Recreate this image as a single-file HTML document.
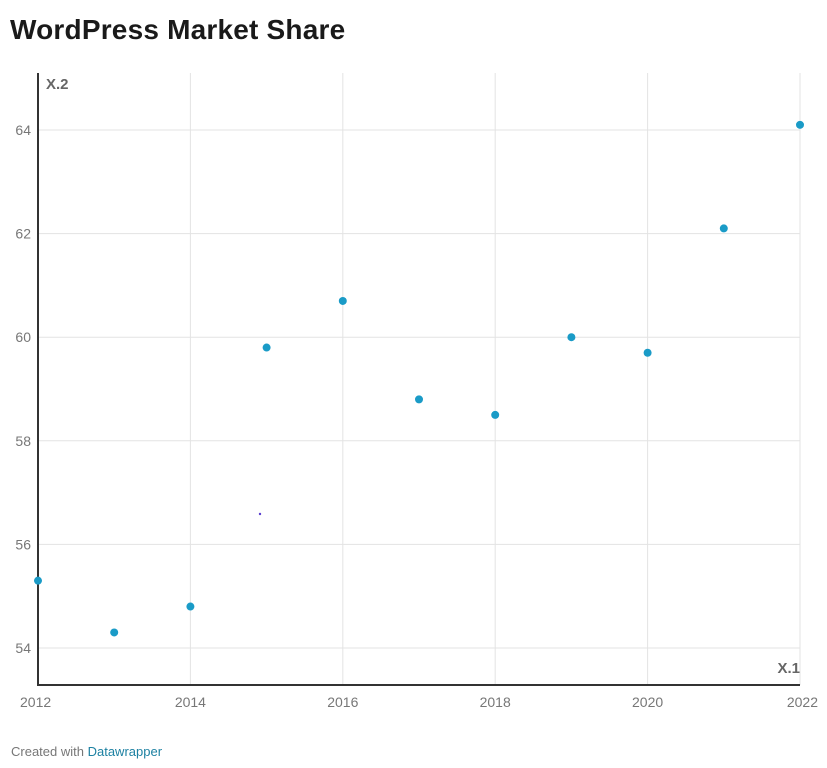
<!DOCTYPE html>
<html><head><meta charset="utf-8"><style>
body{margin:0;background:#fff;width:827px;height:768px;overflow:hidden;font-family:"Liberation Sans",sans-serif}
svg{position:absolute;left:0;top:0}
</style></head><body>
<svg width="827" height="768">
<text x="10" y="39" font-size="28" font-weight="bold" letter-spacing="0.2" fill="#1a1a1a">WordPress Market Share</text>
<g id="grid"></g>
<g id="ticks"></g>
<line x1="38" y1="73" x2="38" y2="685" stroke="#333" stroke-width="2"/>
<line x1="37" y1="685" x2="800" y2="685" stroke="#333" stroke-width="2"/>
<text x="46" y="89" font-size="15" font-weight="bold" fill="#666">X.2</text>
<text x="800" y="673" font-size="15" font-weight="bold" fill="#666" text-anchor="end">X.1</text>
<g id="pts"></g>
<circle cx="260" cy="514" r="1.2" fill="#5a3fd0"/>
<text x="11" y="756" font-size="13" fill="#777">Created with <tspan fill="#1d81a2">Datawrapper</tspan></text>
</svg>
<script>
const years=[2012,2013,2014,2015,2016,2017,2018,2019,2020,2021,2022];
const shares=[55.3,54.3,54.8,59.8,60.7,58.8,58.5,60.0,59.7,62.1,64.1];
const xTicks=[2012,2014,2016,2018,2020,2022];
const yTicks=[54,56,58,60,62,64];
const xs=v=>38+(v-2012)*76.2;
const ys=v=>648-(v-54)*51.8;
const NS="http://www.w3.org/2000/svg";
const grid=document.getElementById('grid'),ticks=document.getElementById('ticks'),pts=document.getElementById('pts');
function mk(tag,attrs,parent){const e=document.createElementNS(NS,tag);for(const k in attrs)e.setAttribute(k,attrs[k]);parent.appendChild(e);return e;}
xTicks.forEach(t=>{
 const l=mk('line',{x1:xs(t),x2:xs(t),y1:73,y2:685,stroke:'#e3e3e3','stroke-width':1},grid);
 
 
 const tx=mk('text',{x:xs(t),y:707,'font-size':14,fill:'#777','text-anchor':t===2012?'start':(t===2022?'end':'middle')},ticks);
 if(t===2012)tx.setAttribute('x',xs(t)-18);
 if(t===2022)tx.setAttribute('x',xs(t)+18);
 tx.textContent=t;
 
 
});
yTicks.forEach(t=>{
 const l=mk('line',{x1:38,x2:800,y1:ys(t),y2:ys(t),stroke:'#e3e3e3','stroke-width':1},grid);
 
 
 const tx=mk('text',{x:31,y:ys(t)+5,'font-size':14,fill:'#777','text-anchor':'end'},ticks);
 tx.textContent=t;
 
 
});
years.forEach((y,i)=>{
 const c=mk('circle',{cx:xs(y),cy:ys(shares[i]),r:4,fill:'#1a9bc7'},pts);
 
 
});
</script>
</body></html>
